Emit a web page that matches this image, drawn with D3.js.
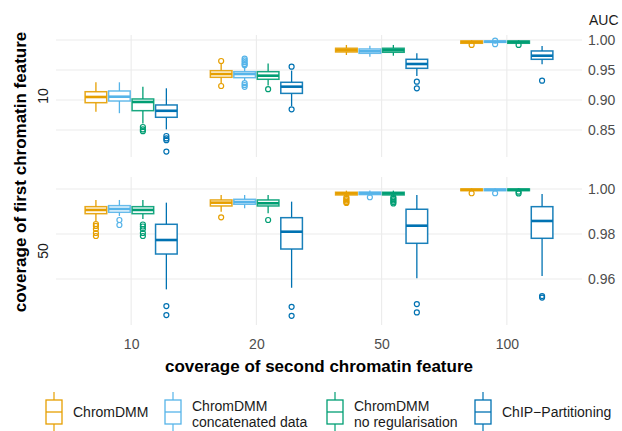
<!DOCTYPE html>
<html><head><meta charset="utf-8">
<script src="https://cdn.jsdelivr.net/npm/d3@7"></script>
<style>
body{margin:0;background:#fff}
svg{display:block}
text{font-family:"Liberation Sans",Arial,Helvetica,sans-serif}
</style>
</head><body>
<svg id="c" width="622" height="431"></svg>
<script>
// ---- data ----
const categories = ["10","20","50","100"];          // coverage of second chromatin feature
const rows = ["10","50"];                            // coverage of first chromatin feature
const methods = ["ChromDMM","ChromDMM concatenated data","ChromDMM no regularisation","ChIP−Partitioning"];
const legendLabels = [["ChromDMM"],["ChromDMM","concatenated data"],["ChromDMM","no regularisation"],["ChIP−Partitioning"]];
const colors = ["#E69F00","#56B4E9","#009E73","#0072B2"];
const ticksTop = [0.85,0.90,0.95,1.00];
const ticksBottom = [0.96,0.98,1.00];

// each entry: [lowerWhisker, q1, median, q3, upperWhisker, [outliers]]
const top_chromdmm = [
  [0.8805,0.8955,0.9050,0.9138,0.9295,[]],
  [0.9278,0.9378,0.9433,0.9488,0.9600,[0.9650,0.9233]],
  [0.9750,0.9800,0.9828,0.9862,0.9917,[]],
  [0.9935,0.9945,0.9967,0.9983,0.9995,[0.9917]]
];
const top_concat = [
  [0.8780,0.8983,0.9055,0.9150,0.9295,[]],
  [0.9330,0.9372,0.9433,0.9472,0.9550,[0.9690,0.9660,0.9630,0.9600,0.9580,0.9280,0.9250,0.9220]],
  [0.9722,0.9778,0.9812,0.9850,0.9905,[]],
  [0.9950,0.9960,0.9972,0.9983,0.9995,[0.9990,0.9930]]
];
const top_noreg = [
  [0.8610,0.8822,0.8967,0.9017,0.9220,[0.8550,0.8510,0.8480]],
  [0.9240,0.9345,0.9405,0.9472,0.9610,[0.9180]],
  [0.9738,0.9795,0.9828,0.9862,0.9917,[]],
  [0.9935,0.9945,0.9967,0.9983,0.9995,[0.9917]]
];
const top_chip = [
  [0.8510,0.8712,0.8820,0.8917,0.9195,[0.8400,0.8360,0.8330,0.8140]],
  [0.8900,0.9110,0.9222,0.9295,0.9490,[0.9555,0.8845]],
  [0.9400,0.9528,0.9600,0.9678,0.9778,[0.9305,0.9195]],
  [0.9595,0.9678,0.9738,0.9817,0.9900,[0.9322]]
];
const bottom_chromdmm = [
  [0.98578,0.98902,0.99067,0.99213,0.99511,[0.98444,0.98356,0.98222,0.98044,0.97911]],
  [0.98991,0.99244,0.99391,0.99511,0.99733,[0.98742]],
  [0.99689,0.99733,0.99800,0.99853,0.99924,[0.99622,0.99556,0.99489,0.99422,0.99378]],
  [0.99900,0.99924,0.99962,1.00000,1.00030,[0.99809]]
];
const bottom_concat = [
  [0.98800,0.98964,0.99111,0.99258,0.99511,[0.98622,0.98400]],
  [0.99142,0.99320,0.99420,0.99540,0.99730,[]],
  [0.99700,0.99750,0.99810,0.99860,0.99930,[0.99630]],
  [0.99900,0.99924,0.99962,1.00000,1.00030,[0.99809]]
];
const bottom_noreg = [
  [0.98667,0.98902,0.99067,0.99213,0.99511,[0.98422,0.98333,0.98222,0.98044,0.97911]],
  [0.98920,0.99244,0.99364,0.99511,0.99733,[0.98622]],
  [0.99689,0.99733,0.99800,0.99853,0.99924,[0.99622,0.99556,0.99489,0.99422,0.99356]],
  [0.99900,0.99924,0.99962,1.00000,1.00030,[0.99880,0.99800]]
];
const bottom_chip = [
  [0.95542,0.97111,0.97733,0.98431,0.99391,[0.94800,0.94400]],
  [0.95613,0.97333,0.98102,0.98724,0.99436,[0.94769,0.94369]],
  [0.96031,0.97587,0.98369,0.99098,0.99733,[0.94889,0.94520]],
  [0.96133,0.97809,0.98578,0.99213,0.99778,[0.95244,0.95178]]
];

// ---- layout ----
const svg = d3.select("#c");
const L = 56, R = 582;
const x = d3.scalePoint().domain(categories).range([L, R]).padding(0.6);
const step = x.step();
const xm = d3.scaleBand().domain(methods).range([-0.375*step, 0.375*step]).paddingInner(0.08).paddingOuter(0.04);

const panels = [
  {row: rows[0], top: 35, bottom: 157, domain: [0.805, 1.0083], ticks: ticksTop,
   series: [top_chromdmm, top_concat, top_noreg, top_chip]},
  {row: rows[1], top: 177, bottom: 325, domain: [0.9396, 1.0053], ticks: ticksBottom,
   series: [bottom_chromdmm, bottom_concat, bottom_noreg, bottom_chip]}
];

const grid = "#ebebeb";
panels.forEach(p => {
  const y = d3.scaleLinear().domain(p.domain).range([p.bottom, p.top]);
  const g = svg.append("g");
  // grid
  g.selectAll(".hg").data(p.ticks).join("line")
    .attr("x1", L).attr("x2", R).attr("y1", d => y(d)).attr("y2", d => y(d))
    .attr("stroke", grid).attr("stroke-width", 1.1);
  g.selectAll(".vg").data(categories).join("line")
    .attr("x1", d => x(d)).attr("x2", d => x(d)).attr("y1", p.top).attr("y2", p.bottom)
    .attr("stroke", grid).attr("stroke-width", 1.1);
  // right axis
  const ax = svg.append("g").attr("transform", `translate(${R},0)`)
    .call(d3.axisRight(y).tickValues(p.ticks).tickFormat(d3.format(".2f")).tickSize(0).tickPadding(6));
  ax.select(".domain").remove();
  ax.selectAll("text").attr("font-size", 14).attr("fill", "#4d4d4d")
    .attr("font-family", "Liberation Sans, Arial, sans-serif");
  // strip label
  svg.append("text").attr("transform", `translate(48,${(p.top+p.bottom)/2}) rotate(-90)`)
    .attr("text-anchor", "middle").attr("font-size", 14).attr("fill", "#1a1a1a").text(p.row);
  // boxes
  p.series.forEach((s, mi) => {
    const col = colors[mi];
    const bw = xm.bandwidth();
    s.forEach((st, ci) => {
      const [lo, q1, med, q3, hi, out] = st;
      const cx = x(categories[ci]) + xm(methods[mi]) + bw/2;
      const b = g.append("g");
      b.append("line").attr("x1", cx).attr("x2", cx).attr("y1", y(q3)).attr("y2", y(hi))
        .attr("stroke", col).attr("stroke-width", 1.3);
      b.append("line").attr("x1", cx).attr("x2", cx).attr("y1", y(q1)).attr("y2", y(lo))
        .attr("stroke", col).attr("stroke-width", 1.3);
      b.append("rect").attr("x", cx - bw/2).attr("width", bw)
        .attr("y", y(q3)).attr("height", Math.max(0.01, y(q1) - y(q3)))
        .attr("fill", "#fff").attr("stroke", col).attr("stroke-width", 1.5).attr("stroke-opacity", 0.9);
      b.append("line").attr("x1", cx - bw/2).attr("x2", cx + bw/2).attr("y1", y(med)).attr("y2", y(med))
        .attr("stroke", col).attr("stroke-width", 2.6);
      b.selectAll("circle").data(out).join("circle")
        .attr("cx", cx).attr("cy", d => y(d)).attr("r", 2.5)
        .attr("fill", "none").attr("stroke", col).attr("stroke-width", 1.2);
    });
  });
});

// x axis
const xa = svg.append("g").attr("transform", "translate(0,325)")
  .call(d3.axisBottom(x).tickSize(0).tickPadding(14));
xa.select(".domain").remove();
xa.selectAll("text").attr("font-size", 14).attr("fill", "#4d4d4d")
  .attr("font-family", "Liberation Sans, Arial, sans-serif");

// titles
svg.append("text").attr("x", (L+R)/2).attr("y", 372).attr("text-anchor", "middle")
  .attr("font-size", 17).attr("font-weight", "bold").attr("fill", "#000")
  .text("coverage of second chromatin feature");
svg.append("text").attr("transform", "translate(26,172) rotate(-90)").attr("text-anchor", "middle")
  .attr("font-size", 17).attr("font-weight", "bold").attr("fill", "#000")
  .text("coverage of first chromatin feature");
svg.append("text").attr("x", 589).attr("y", 25).attr("font-size", 14).attr("fill", "#1a1a1a").text("AUC");

// legend
const keyX = [46, 165, 327, 475];
const kw = 16, kTop = 400, kBot = 424, kMid = 412;
methods.forEach((m, i) => {
  const kx = keyX[i], col = colors[i], cx = kx + kw/2;
  const lg = svg.append("g");
  lg.append("line").attr("x1", cx).attr("x2", cx).attr("y1", 392).attr("y2", kTop).attr("stroke", col).attr("stroke-width", 1.2);
  lg.append("line").attr("x1", cx).attr("x2", cx).attr("y1", kBot).attr("y2", 432).attr("stroke", col).attr("stroke-width", 1.2);
  lg.append("rect").attr("x", kx).attr("y", kTop).attr("width", kw).attr("height", kBot - kTop)
    .attr("fill", "#fff").attr("stroke", col).attr("stroke-width", 1.3);
  lg.append("line").attr("x1", kx).attr("x2", kx + kw).attr("y1", kMid).attr("y2", kMid).attr("stroke", col).attr("stroke-width", 1.3);
  const lines = legendLabels[i];
  const t = lg.append("text").attr("x", kx + kw + 11).attr("font-size", 14).attr("fill", "#1a1a1a");
  if (lines.length === 1) {
    t.append("tspan").attr("x", kx + kw + 11).attr("y", kMid + 5).text(lines[0]);
  } else {
    t.append("tspan").attr("x", kx + kw + 11).attr("y", kMid - 1).text(lines[0]);
    t.append("tspan").attr("x", kx + kw + 11).attr("y", kMid + 15).text(lines[1]);
  }
});
</script>
</body></html>
